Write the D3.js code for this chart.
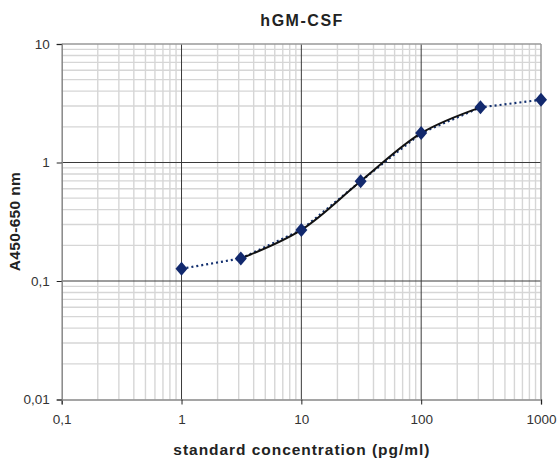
<!DOCTYPE html>
<html>
<head>
<meta charset="utf-8">
<script src="https://cdn.jsdelivr.net/npm/d3@7"></script>
<style>
  body { margin:0; background:#fff; }
  text { font-family: "Liberation Sans", Arial, sans-serif; }
</style>
</head>
<body>
<div id="chart"></div>
<script>
// standard curve data (log-log)
const concentrations = [1, 3.125, 10, 31.25, 100, 312.5, 1000];
const absorbance = [0.127, 0.155, 0.27, 0.695, 1.77, 2.92, 3.38];
const xTicks = [0.1, 1, 10, 100, 1000];
const xTickLabels = ['0,1', '1', '10', '100', '1000'];
const yTicks = [0.01, 0.1, 1, 10];
const yTickLabels = ['0,01', '0,1', '1', '10'];
// points 2..6 carry the fitted (solid) curve
const fitIdx = [1, 2, 3, 4, 5];

const width = 558, height = 461;
const margin = {top:44, right:17, bottom:61.5, left:61.7};

const svg = d3.select('#chart').append('svg')
  .attr('width', width).attr('height', height);

const x = d3.scaleLog().domain([0.1, 1000]).range([margin.left, width - margin.right]);
const y = d3.scaleLog().domain([0.01, 10]).range([height - margin.bottom, margin.top]);

// minor grid (2..9 of every decade)
const minorX = [], minorY = [];
[0.1, 1, 10, 100].forEach(d => { for (let k = 2; k <= 9; k++) minorX.push(d * k); });
[0.01, 0.1, 1].forEach(d => { for (let k = 2; k <= 9; k++) minorY.push(d * k); });

const grid = svg.append('g');
grid.selectAll('line.mx').data(minorX).enter().append('line')
  .attr('x1', d => x(d)).attr('x2', d => x(d))
  .attr('y1', y(0.01)).attr('y2', y(10))
  .attr('stroke', '#d6d6d6').attr('stroke-width', 1.4);
grid.selectAll('line.my').data(minorY).enter().append('line')
  .attr('y1', d => y(d)).attr('y2', d => y(d))
  .attr('x1', x(0.1)).attr('x2', x(1000))
  .attr('stroke', '#d6d6d6').attr('stroke-width', 1.4);

// major grid
grid.selectAll('line.Mx').data([1, 10, 100]).enter().append('line')
  .attr('x1', d => x(d)).attr('x2', d => x(d))
  .attr('y1', y(0.01)).attr('y2', y(10))
  .attr('stroke', '#3a3a3a').attr('stroke-width', 1);
grid.selectAll('line.My').data([0.1, 1]).enter().append('line')
  .attr('y1', d => y(d)).attr('y2', d => y(d))
  .attr('x1', x(0.1)).attr('x2', x(1000))
  .attr('stroke', '#3a3a3a').attr('stroke-width', 1);

// frame top / right
svg.append('line').attr('x1', x(0.1)).attr('x2', x(1000)).attr('y1', y(10)).attr('y2', y(10))
  .attr('stroke', '#999').attr('stroke-width', 1.5);
svg.append('line').attr('x1', x(1000)).attr('x2', x(1000)).attr('y1', y(10)).attr('y2', y(0.01))
  .attr('stroke', '#999').attr('stroke-width', 1.5);

// axes
const xAxis = d3.axisBottom(x).tickValues(xTicks)
  .tickFormat((d, i) => xTickLabels[i]).tickSize(5).tickPadding(10);
const yAxis = d3.axisLeft(y).tickValues(yTicks)
  .tickFormat((d, i) => yTickLabels[i]).tickSize(5).tickPadding(7);

const gx = svg.append('g').attr('transform', `translate(0,${y(0.01)})`).call(xAxis);
const gy = svg.append('g').attr('transform', `translate(${x(0.1)},0)`).call(yAxis);
[gx, gy].forEach(g => {
  g.select('.domain').attr('stroke', '#888').attr('stroke-width', 1.5);
  g.selectAll('.tick line').attr('stroke', '#222');
  g.selectAll('.tick text').attr('fill', '#333').style('font-size', '13.5px')
    .style('font-family', '"Liberation Sans", Arial, sans-serif');
});

// dotted connecting line
const pts = concentrations.map((c, i) => [x(c), y(absorbance[i])]);
svg.append('path')
  .attr('d', d3.line()(pts))
  .attr('fill', 'none').attr('stroke', '#13306f')
  .attr('stroke-width', 2.2).attr('stroke-dasharray', '2,3');

// smooth fitted curve
svg.append('path')
  .attr('d', d3.line().curve(d3.curveCatmullRom.alpha(0.5))(fitIdx.map(i => pts[i])))
  .attr('fill', 'none').attr('stroke', '#111').attr('stroke-width', 2);

// diamond markers
const diamond = { draw(ctx) { ctx.moveTo(0, -7); ctx.lineTo(6, 0); ctx.lineTo(0, 7); ctx.lineTo(-6, 0); ctx.closePath(); } };
svg.selectAll('path.pt').data(pts).enter().append('path')
  .attr('transform', d => `translate(${d[0]},${d[1]})`)
  .attr('d', d3.symbol().type(diamond)())
  .attr('fill', '#12296e');

// titles
const cx = (x(0.1) + x(1000)) / 2;
svg.append('text').attr('x', cx).attr('y', 26)
  .attr('text-anchor', 'middle').style('font-size', '16px').style('font-weight', 'bold')
  .attr('textLength', 82).attr('lengthAdjust', 'spacing')
  .attr('fill', '#222').text('hGM-CSF');
svg.append('text').attr('x', cx).attr('y', 455)
  .attr('text-anchor', 'middle').style('font-size', '15.5px').style('font-weight', 'bold')
  .attr('textLength', 256).attr('lengthAdjust', 'spacing')
  .attr('fill', '#222').text('standard concentration (pg/ml)');
svg.append('text').attr('transform', `translate(20,${(y(0.01) + y(10)) / 2}) rotate(-90)`)
  .attr('text-anchor', 'middle').style('font-size', '15.5px').style('font-weight', 'bold')
  .attr('textLength', 99).attr('lengthAdjust', 'spacing')
  .attr('fill', '#222').text('A450-650 nm');
</script>
</body>
</html>
